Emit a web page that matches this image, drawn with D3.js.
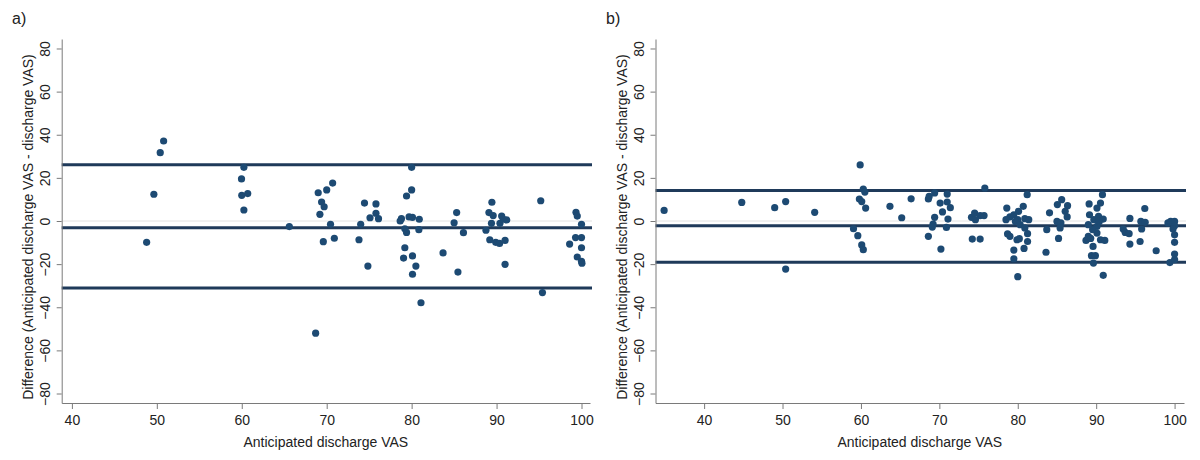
<!DOCTYPE html>
<html>
<head>
<meta charset="utf-8">
<script src="https://cdn.jsdelivr.net/npm/d3@7"></script>
<style>
  html, body { margin: 0; padding: 0; background: #fff; }
  svg { display: block; }
  text { font-family: "Liberation Sans", Arial, sans-serif; fill: #222; }
</style>
</head>
<body>
<svg id="chart" width="1200" height="460"></svg>
<script>
// ---------- DATA ----------
const panelLabels = ["a)", "b)"];
const xTicks = [40, 50, 60, 70, 80, 90, 100];
const yTicks = [-80, -60, -40, -20, 0, 20, 40, 60, 80];
const xTitle = "Anticipated discharge VAS";
const yTitle = "Difference (Anticipated discharge VAS - discharge VAS)";

const aX = [48.8,49.65,50.4,50.8,60.25,59.97,60.0,60.7,60.25,65.6,69.0,69.4,69.7,69.2,68.7,70.0,70.7,70.45,69.6,70.9,
  73.8,74.0,74.45,74.85,75.1,75.8,75.8,76.1,78.65,78.8,79.2,79.4,79.2,79.05,79.4,80.0,80.0,79.7,80.1,80.9,
  80.85,80.1,80.5,80.1,81.1,83.7,85.0,85.3,86.1,85.45,88.75,89.2,89.45,89.1,89.4,89.6,89.9,90.35,90.4,90.6,
  90.8,91.0,91.0,91.2,95.2,95.4,98.6,99.35,99.5,100,99.3,100,100,99.5,100,100.05];
const aY = [-9.9,12.4,31.7,37.1,24.9,19.5,11.9,12.7,5.1,-2.6,13.1,8.8,6.6,3.1,-52,14.4,17.6,-1.5,-9.6,-8.0,
  -8.7,-1.5,8.3,-20.9,1.5,7.9,3.6,1.1,0,1.1,-3.6,-5.3,-12.4,-17.2,11.6,14.4,24.9,1.9,1.7,0.8,
  -4.0,-16.2,-20.9,-24.7,-37.9,-14.8,-0.8,3.9,-5.4,-23.7,-4.3,-8.7,8.7,3.9,-1.1,2.5,-9.9,-10.4,-1.1,2.3,
  0.8,-9.0,-20.1,0.5,9.4,-33.2,-10.7,4.0,2.3,-1.5,-7.7,-7.7,-12.4,-16.7,-18.7,-19.6];
const aLimits = [26.1, -3.1, -31.1];

const bX = [34.9,44.8,49.0,50.4,50.4,54.1,59.9,59.8,60.1,60.3,60.5,60.6,59.05,59.6,60.1,60.3,63.7,65.2,66.4,
  68.6,68.7,69.4,71.0,70.1,71.0,71.4,70.4,69.4,71.1,69.2,69.1,70.9,68.6,70.2,
  75.8,74.1,74.5,75.2,74.6,75.7,74.2,75.2,
  78.6,79.0,78.5,79.5,80.1,80.0,79.7,80.7,81.2,80.9,81.4,80.3,80.9,81.25,78.7,79.0,79.9,80.2,81.25,80.8,79.5,79.5,80.0,
  83.7,84.05,83.6,85.05,85.6,86.35,86.05,86.3,85.0,85.5,85.4,85.2,
  89.1,89.15,89.7,90.55,90.8,90.1,90.3,90.9,89.0,90.1,90.4,90.1,89.55,88.7,89.0,89.3,90.55,91.1,89.6,89.4,89.9,89.65,90.9,
  93.45,93.7,94.2,94.3,94.3,95.6,95.7,95.8,96.2,96.25,97.65,
  99.15,99.5,100,100,99.8,100,100,100,99.4,100];
const bY = [4.9,8.6,6.2,9.0,-22.3,4.0,26.0,10.2,9.0,14.8,13.4,6.0,-3.6,-6.8,-11.1,-13.3,6.8,1.5,10.3,
  10.2,11.4,13.0,12.5,8.3,8.8,6.2,4.2,1.7,0.9,-1.4,-2.8,-3.0,-7.1,-13.0,
  15.3,1.7,3.7,2.5,0.6,2.5,-8.4,-8.4,
  6.0,1.9,0.6,2.9,4.5,0.6,-0.2,6.8,12.2,1.1,0.6,-1.7,-3.2,-5.9,-6.0,-7.1,-8.7,-8.2,-9.5,-12.7,-13.5,-17.5,-25.8,
  -4.0,3.8,-14.5,7.6,9.9,7.1,4.5,1.9,-0.2,-0.9,-3.2,-8.1,
  7.9,2.9,0.6,8.3,12.2,6.0,2.1,0.9,-1.7,-2.5,-0.2,-5.6,-4.0,-9.0,-7.1,-8.1,-8.7,-9.0,-11.8,-16.1,-16.1,-19.5,-25.2,
  -3.7,-5.3,-5.9,1.2,-10.7,-9.5,-0.2,-3.7,5.8,-0.6,-13.8,
  -0.9,-0.2,-0.2,-2.2,-3.7,-6.4,-9.9,-15.3,-19.3,-17.9];
const bLimits = [14.1, -2.2, -19.1];

// ---------- LAYOUT ----------
const svg = d3.select("#chart");
const dotColor = "#1d4a73";
const lineColor = "#1f3a5a";
const axisColor = "#7a7a7a";

const panels = [
  { label: panelLabels[0], xs: aX, ys: aY, lim: aLimits, left: 61.7, right: 590, xDom: [38.8, 101.0], labelX: 12 },
  { label: panelLabels[1], xs: bX, ys: bY, lim: bLimits, left: 655.5, right: 1184, xDom: [33.8, 101.2], labelX: 606 }
];
const plotTop = 39, plotBottom = 403;

panels.forEach(p => {
  const x = d3.scaleLinear().domain(p.xDom).range([p.left, p.right]);
  const y = d3.scaleLinear().domain([-84.4, 84.4]).range([plotBottom, plotTop]);
  const g = svg.append("g");

  g.append("text").attr("x", p.labelX).attr("y", 24).attr("font-size", 16).text(p.label);

  g.append("line")
    .attr("x1", p.left).attr("x2", p.right + 2)
    .attr("y1", y(0)).attr("y2", y(0))
    .attr("stroke", "#e2e2e2").attr("stroke-width", 1);

  g.selectAll(".lim").data(p.lim).enter().append("line")
    .attr("x1", p.left).attr("x2", p.right + 2)
    .attr("y1", d => y(d)).attr("y2", d => y(d))
    .attr("stroke", lineColor).attr("stroke-width", 3);

  g.selectAll(".pt").data(p.xs.map((v, i) => [v, p.ys[i]])).enter().append("circle")
    .attr("cx", d => x(d[0])).attr("cy", d => y(d[1]))
    .attr("r", 3.6).attr("fill", dotColor);

  const xAxis = d3.axisBottom(x).tickValues(xTicks).tickSize(6).tickSizeOuter(0).tickPadding(6);
  const xg = g.append("g").attr("transform", `translate(0,${plotBottom})`).call(xAxis);
  xg.select(".domain").attr("stroke", axisColor);
  xg.selectAll(".tick line").attr("stroke", axisColor);
  xg.selectAll(".tick text").attr("font-size", 14).attr("fill", "#222")
    .attr("font-family", "Liberation Sans, Arial, sans-serif");

  const yAxis = d3.axisLeft(y).tickValues(yTicks).tickSize(5).tickSizeOuter(0).tickPadding(0);
  const yg = g.append("g").attr("transform", `translate(${p.left},0)`).call(yAxis);
  yg.select(".domain").attr("stroke", axisColor);
  yg.selectAll(".tick line").attr("stroke", axisColor);
  yg.selectAll(".tick text")
    .attr("font-size", 14).attr("fill", "#222")
    .attr("font-family", "Liberation Sans, Arial, sans-serif")
    .attr("x", 0).attr("dy", 0)
    .attr("text-anchor", "middle")
    .attr("transform", "translate(-12,0) rotate(-90)");

  g.append("text")
    .attr("x", (p.left + p.right) / 2).attr("y", 447)
    .attr("text-anchor", "middle").attr("font-size", 14).text(xTitle);
  g.append("text")
    .attr("transform", `translate(${p.left - 29},${(plotTop + plotBottom) / 2 + 6}) rotate(-90)`)
    .attr("text-anchor", "middle").attr("font-size", 14).text(yTitle);
});
</script>
</body>
</html>
